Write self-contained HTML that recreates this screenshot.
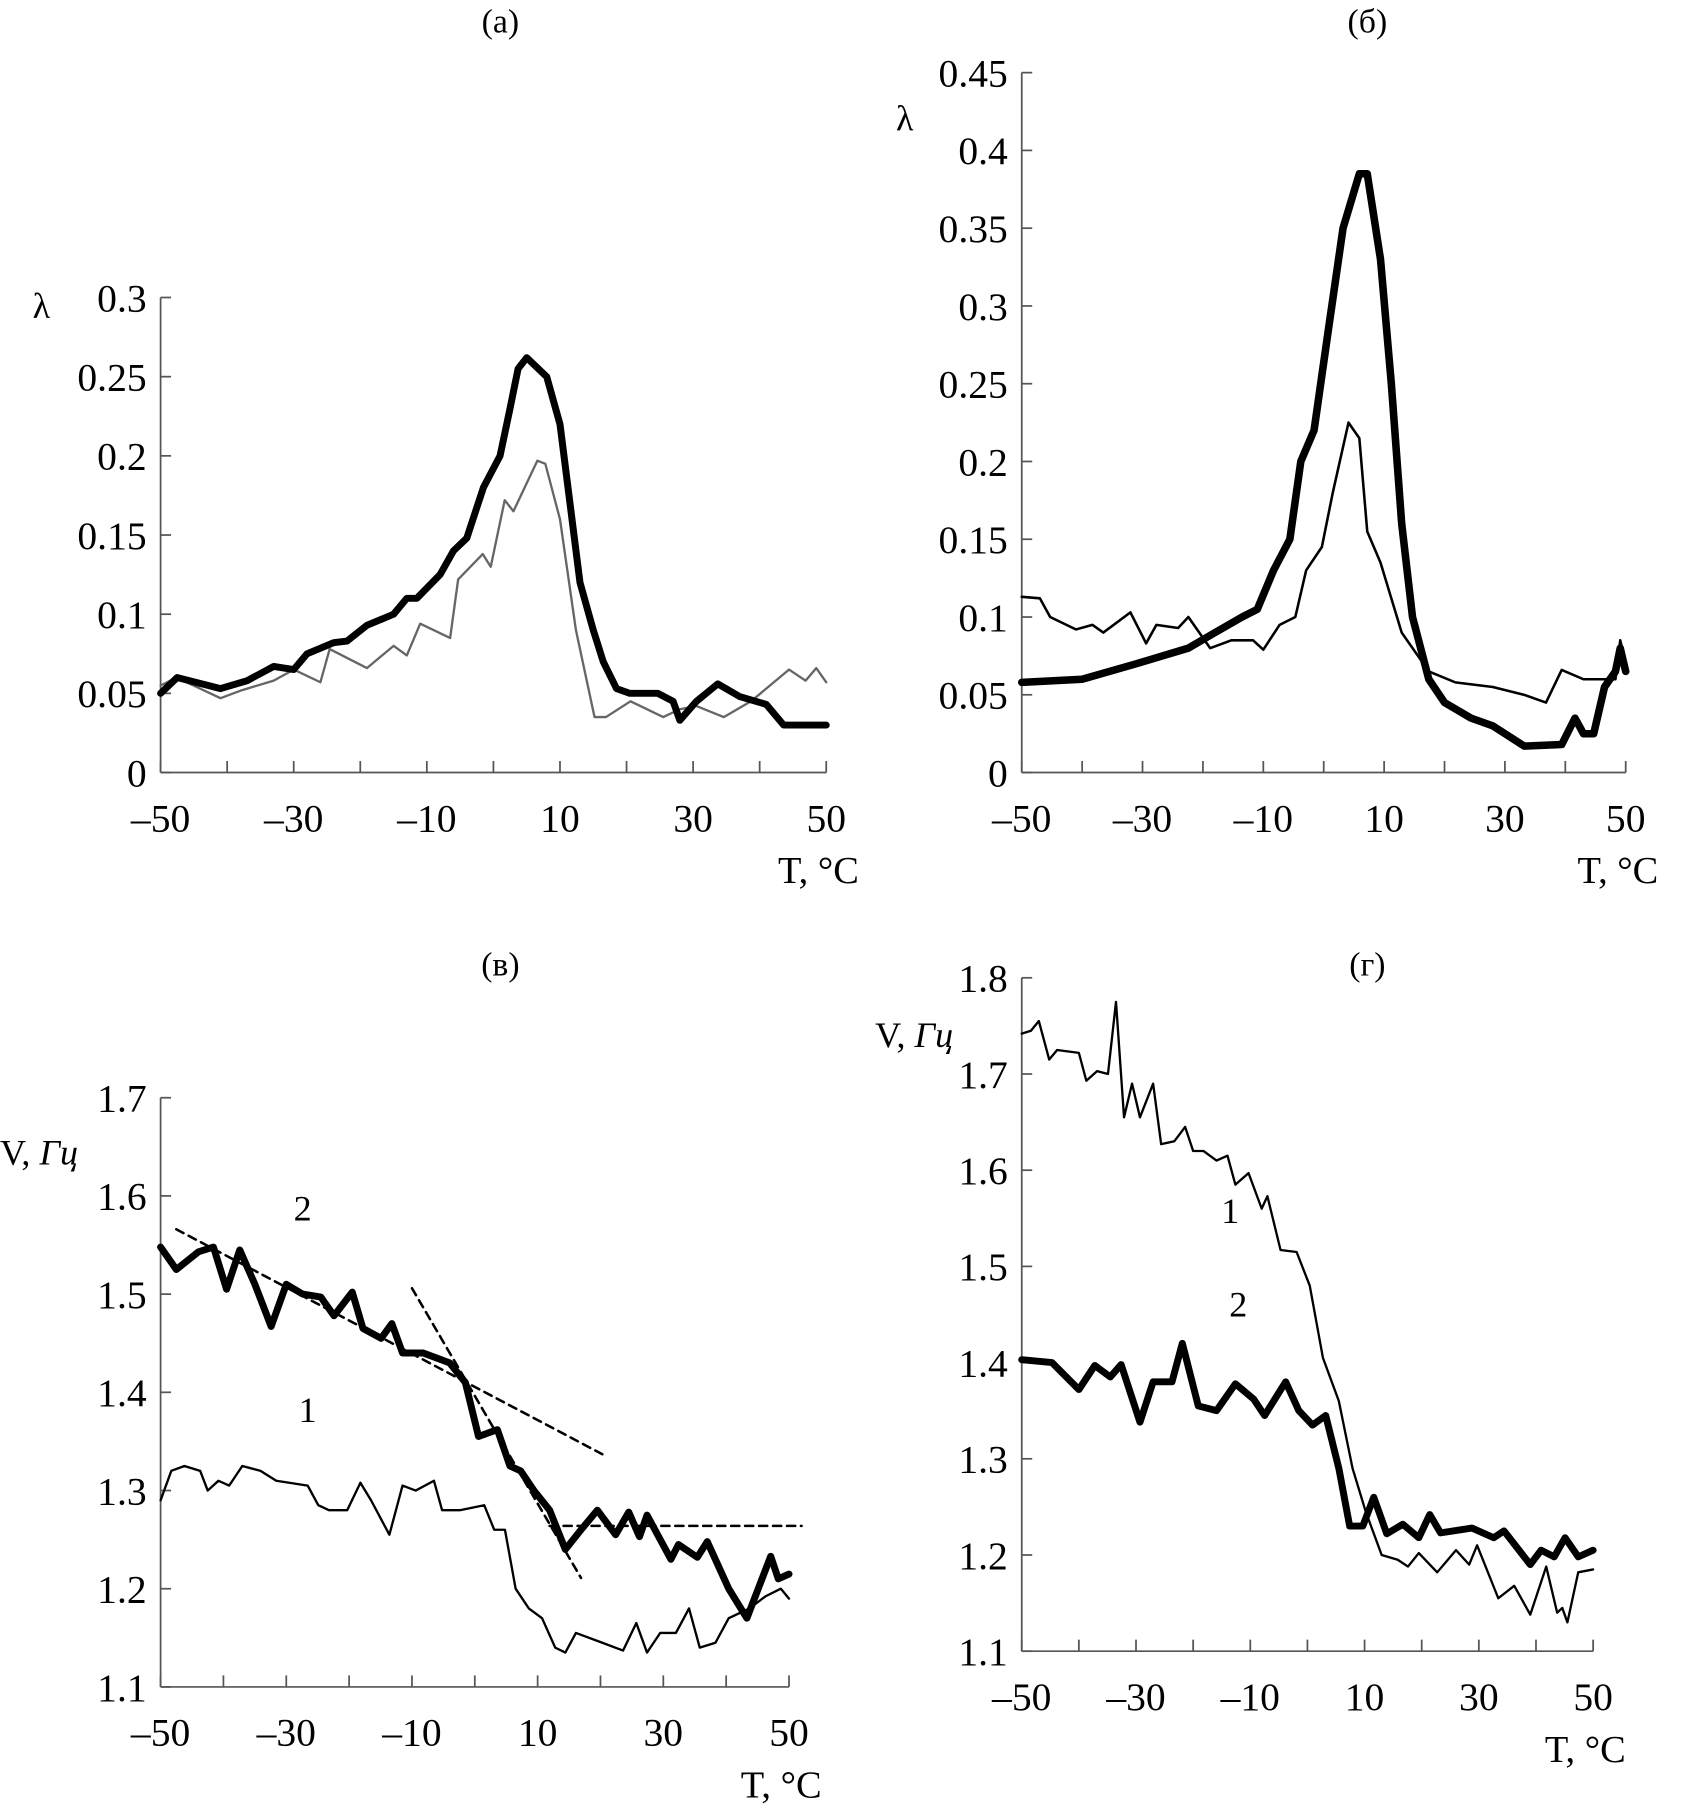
<!DOCTYPE html>
<html><head><meta charset="utf-8"><style>
html,body{margin:0;padding:0;background:#fff;width:1706px;height:1808px;overflow:hidden}
svg{display:block}
text{font-family:"Liberation Serif","Times New Roman",serif;fill:#000}
</style></head><body>
<svg id="fig" width="1706" height="1808" viewBox="0 0 1466 1568" preserveAspectRatio="none" xmlns="http://www.w3.org/2000/svg"></svg>
<script>
const xTicks=[-50,-40,-30,-20,-10,0,10,20,30,40,50];
const xLabels=[-50,-30,-10,10,30,50];
// Panel a
const aTicks=[0,0.05,0.1,0.15,0.2,0.25,0.3];
const aTickLabels=["0","0.05","0.1","0.15","0.2","0.25","0.3"];
const aThickX=[-50,-47.5,-41,-37,-33,-30,-28,-24,-22,-19,-15,-13,-11.5,-8,-6,-4,-1.5,1,2.5,3.7,5,8,10,11.5,13,15,16.5,18.5,20.5,24.7,27,28,30.5,33.7,37,41,43.6,50];
const aThickY=[0.05,0.06,0.053,0.058,0.067,0.065,0.075,0.082,0.083,0.093,0.1,0.11,0.11,0.125,0.14,0.148,0.18,0.2,0.23,0.255,0.262,0.25,0.22,0.17,0.12,0.09,0.07,0.053,0.05,0.05,0.045,0.033,0.045,0.056,0.048,0.043,0.03,0.03];
const aThinX=[-50,-47.6,-41,-37.8,-33,-30,-26,-24.6,-19,-15,-13,-11,-6.5,-5.3,-1.6,-0.4,1.7,3,6.6,7.8,10,12.4,15.2,16.9,20.6,25.5,28,30.5,34.6,38.7,44.4,46.9,48.5,50];
const aThinY=[0.055,0.06,0.047,0.052,0.058,0.065,0.057,0.078,0.066,0.08,0.074,0.094,0.085,0.122,0.138,0.13,0.172,0.165,0.197,0.195,0.16,0.09,0.035,0.035,0.045,0.035,0.04,0.042,0.035,0.045,0.065,0.058,0.066,0.057];
// Panel b
const bTicks=[0,0.05,0.1,0.15,0.2,0.25,0.3,0.35,0.4,0.45];
const bTickLabels=["0","0.05","0.1","0.15","0.2","0.25","0.3","0.35","0.4","0.45"];
const bThickX=[-50,-40,-31,-22.4,-18,-13.5,-11,-8.3,-5.6,-3.8,-1.6,0.6,3.2,5.9,7.2,9.4,11.2,12.9,14.7,17.4,20,24.4,28,33.2,39.4,41.6,43,44.7,46.5,48.3,49.1,50];
const bThickY=[0.058,0.06,0.07,0.08,0.09,0.1,0.105,0.13,0.15,0.2,0.22,0.28,0.35,0.385,0.385,0.33,0.25,0.16,0.1,0.06,0.045,0.035,0.03,0.017,0.018,0.035,0.025,0.025,0.055,0.065,0.08,0.065];
const bThinX=[-50,-47,-45.3,-41,-38.3,-36.5,-32,-29.4,-27.7,-24.1,-22.4,-18.8,-15.3,-11.7,-10,-7.3,-4.7,-2.9,-0.3,1.5,4.1,5.9,7.2,9.4,12.9,17.4,21.8,28,33.2,36.8,39.4,43,44.7,48.3,49.1,50];
const bThinY=[0.113,0.112,0.1,0.092,0.095,0.09,0.103,0.083,0.095,0.093,0.1,0.08,0.085,0.085,0.079,0.095,0.1,0.13,0.145,0.18,0.225,0.215,0.155,0.135,0.09,0.065,0.058,0.055,0.05,0.045,0.066,0.06,0.06,0.06,0.085,0.07];
// Panel c
const cTicks=[1.1,1.2,1.3,1.4,1.5,1.6,1.7];
const cTickLabels=["1.1","1.2","1.3","1.4","1.5","1.6","1.7"];
const c2X=[-50,-47.5,-44,-41.6,-39.5,-37.4,-35,-32.4,-30,-27.4,-24.5,-22.4,-19.5,-17.8,-14.9,-13.2,-11.5,-8.2,-4,-1.5,0.6,3.6,5.6,7.3,9.4,11.9,14.4,16.9,19.5,22.4,24.5,26.2,27.4,31.2,32.4,35.4,37,40.4,43.3,47.1,48.3,50];
const c2Y=[1.548,1.525,1.543,1.548,1.505,1.545,1.51,1.467,1.51,1.5,1.497,1.478,1.502,1.465,1.455,1.47,1.44,1.44,1.43,1.41,1.355,1.362,1.325,1.32,1.3,1.28,1.24,1.26,1.28,1.255,1.278,1.253,1.275,1.23,1.245,1.232,1.248,1.2,1.17,1.233,1.21,1.215];
const c1X=[-50,-48.3,-46.2,-43.7,-42.5,-40.8,-39.1,-37,-34.1,-31.6,-26.6,-24.9,-23.2,-20.3,-18.2,-16.5,-13.6,-11.5,-9.4,-6.5,-5.2,-2.3,1.5,3.1,4.8,6.5,8.6,10.7,12.8,14.4,16.1,20.3,23.6,25.7,27.4,29.5,32,34.1,35.8,38.3,40.4,43.7,46.2,48.7,50];
const c1Y=[1.29,1.32,1.325,1.32,1.3,1.31,1.305,1.325,1.32,1.31,1.305,1.285,1.28,1.28,1.308,1.29,1.255,1.305,1.3,1.31,1.28,1.28,1.285,1.26,1.26,1.2,1.18,1.17,1.14,1.135,1.155,1.145,1.137,1.165,1.135,1.155,1.155,1.18,1.14,1.145,1.17,1.18,1.192,1.2,1.19];
const cDashX1=[-47.5,20.3], cDashY1=[1.566,1.337];
const cDashX2=[-10,16.9], cDashY2=[1.506,1.211];
const cDashX3=[11.9,52], cDashY3=[1.264,1.264];
// Panel d
const dTicks=[1.1,1.2,1.3,1.4,1.5,1.6,1.7,1.8];
const dTickLabels=["1.1","1.2","1.3","1.4","1.5","1.6","1.7","1.8"];
const d1X=[-50,-48.4,-47,-45.2,-43.8,-40,-38.7,-36.8,-34.9,-33.5,-32.1,-30.7,-29.3,-27,-25.6,-23.3,-21.4,-20,-18.2,-15.9,-14,-12.6,-10.3,-8,-7,-4.7,-1.9,0.4,2.7,5.5,7.9,10.2,13,15.8,17.6,19.5,22.7,26,28.3,29.7,33.4,36.2,39,41.8,43.7,44.6,45.5,47.4,50];
const d1Y=[1.742,1.745,1.755,1.715,1.725,1.722,1.693,1.703,1.7,1.775,1.655,1.69,1.655,1.69,1.627,1.63,1.645,1.62,1.62,1.61,1.615,1.585,1.597,1.56,1.573,1.517,1.515,1.48,1.405,1.36,1.29,1.245,1.2,1.195,1.188,1.202,1.182,1.205,1.19,1.21,1.155,1.168,1.138,1.188,1.14,1.145,1.13,1.182,1.185];
const d2X=[-50,-44.7,-40,-37.2,-34.5,-32.6,-29.3,-27,-23.7,-21.9,-19.1,-15.9,-12.6,-9.4,-7.5,-3.8,-1.5,0.9,3.2,5.5,7.4,9.7,11.6,13.9,16.7,19.5,21.4,23.3,28.8,32.6,34.4,39,40.9,43.2,45.1,47.4,50];
const d2Y=[1.403,1.4,1.372,1.397,1.385,1.398,1.338,1.38,1.38,1.42,1.355,1.35,1.378,1.362,1.345,1.38,1.35,1.335,1.345,1.29,1.23,1.23,1.26,1.222,1.232,1.218,1.242,1.223,1.228,1.218,1.225,1.19,1.205,1.198,1.218,1.198,1.205];

const NS="http://www.w3.org/2000/svg";
const svg=document.getElementById('fig');
function mk(tag,attrs,parent){const e=document.createElementNS(NS,tag);for(const k in attrs)e.setAttribute(k,attrs[k]);(parent||svg).appendChild(e);return e;}
function txt(s,x,y,size,anchor,parent){const t=mk('text',{x:x,y:y,'font-size':size,'text-anchor':anchor||'start'},parent);t.textContent=s;return t;}

function panel(id,P){
  const g=mk('g',{});
  
  
  const sx=v=>P.x0+(v+50)/100*(P.x1-P.x0);
  const sy=v=>P.y0-(v-P.ymin)/(P.ymax-P.ymin)*(P.y0-P.yTop);
  const ax=mk('g',{},g);
  
  
  mk('line',{x1:P.x0,y1:P.yTop,x2:P.x0,y2:P.y0,stroke:'#555','stroke-width':1.5},ax);
  P.ticks.forEach((v,i)=>{
    mk('line',{x1:P.x0,y1:sy(v),x2:P.x0+9,y2:sy(v),stroke:'#555','stroke-width':1.5},ax);
    const t=txt(P.tickLabels[i],P.x0-12,sy(v)+12,34,'end',ax);
    
    
  });
  const xa=mk('g',{},g);
  
  
  mk('line',{x1:P.x0,y1:P.y0,x2:P.x1,y2:P.y0,stroke:'#555','stroke-width':1.5},xa);
  xTicks.forEach(v=>mk('line',{x1:sx(v),y1:P.y0,x2:sx(v),y2:P.y0-10,stroke:'#555','stroke-width':1.5},xa));
  xLabels.forEach(v=>{
    const t=txt((v<0?'\u2013'+(-v):''+v),sx(v),P.y0+51,34,'middle',xa);
    
    
  });
  const xt=txt('T, \u00B0C',P.x1+28,P.y0+96,33,'end',g);
  
  
  const tt=txt(P.title,P.titleX,P.titleY,29,'middle',g);
  
  
  P.series.forEach(s=>{
    const d=s.x.map((v,i)=>(i?'L':'M')+sx(v).toFixed(1)+' '+sy(s.y[i]).toFixed(1)).join(' ');
    const p=mk('path',{d:d,fill:'none',stroke:s.color||'#000','stroke-width':s.w,'stroke-linejoin':'round','stroke-linecap':'round'},g);
    if(s.dash)p.setAttribute('stroke-dasharray',s.dash);
    
    
  });
  return {g,sx,sy};
}

const A=panel('a',{x0:138,x1:710,y0:670,yTop:258,ymin:0,ymax:0.3,ticks:aTicks,tickLabels:aTickLabels,title:'(а)',titleX:430,titleY:28,
  series:[{x:aThinX,y:aThinY,w:2,color:'#666',name:'series-1-thin'},{x:aThickX,y:aThickY,w:6,name:'series-2-thick'}]});
const la=txt('λ',28,276,31,'start',A.g);

const B=panel('b',{x0:878,x1:1397,y0:670,yTop:63,ymin:0,ymax:0.45,ticks:bTicks,tickLabels:bTickLabels,title:'(б)',titleX:1175,titleY:28,
  series:[{x:bThinX,y:bThinY,w:2.2,name:'series-1-thin'},{x:bThickX,y:bThickY,w:6.5,name:'series-2-thick'}]});
const lb=txt('λ',770,113,31,'start',B.g);

const C=panel('c',{x0:138,x1:678,y0:1463,yTop:952,ymin:1.1,ymax:1.7,ticks:cTicks,tickLabels:cTickLabels,title:'(в)',titleX:430,titleY:846,
  series:[{x:c1X,y:c1Y,w:2,name:'series-1-thin'},{x:c2X,y:c2Y,w:6,name:'series-2-thick'},
  {x:cDashX1,y:cDashY1,w:2.2,dash:'7 5',name:'trend-line-1'},{x:cDashX2,y:cDashY2,w:2.2,dash:'7 5',name:'trend-line-2'},{x:cDashX3,y:cDashY3,w:2.2,dash:'7 5',name:'trend-line-3'}]});
const lc=txt('V, ',0,1010,31,'start',C.g);
const lci=mk('tspan',{'font-style':'italic'},lc);lci.textContent='Гц';
const c2l=txt('2',C.sx(-27.4),C.sy(1.575),31,'middle',C.g);
const c1l=txt('1',C.sx(-26.6),C.sy(1.37),31,'middle',C.g);

const D=panel('d',{x0:878,x1:1369,y0:1432,yTop:848,ymin:1.1,ymax:1.8,ticks:dTicks,tickLabels:dTickLabels,title:'(г)',titleX:1175,titleY:846,
  series:[{x:d1X,y:d1Y,w:2,name:'series-1-thin'},{x:d2X,y:d2Y,w:6,name:'series-2-thick'}]});
const ld=txt('V, ',752,908,31,'start',D.g);
const ldi=mk('tspan',{'font-style':'italic'},ld);ldi.textContent='Гц';
const d1l=txt('1',D.sx(-13.5),D.sy(1.545),31,'middle',D.g);
const d2l=txt('2',D.sx(-12.1),D.sy(1.448),31,'middle',D.g);
</script>
</body></html>
